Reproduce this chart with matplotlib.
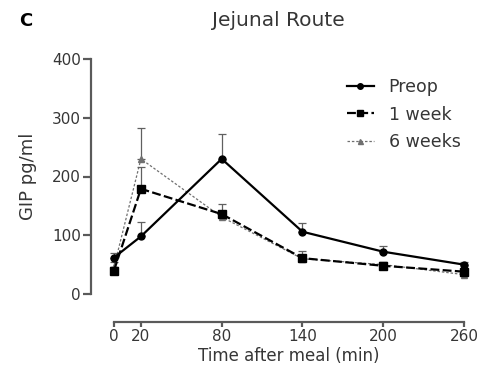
import matplotlib
matplotlib.use("Agg")
import matplotlib.pyplot as plt
from matplotlib.lines import Line2D

plt.rcParams['font.family'] = ['DejaVu Sans']

time = [0, 20, 80, 140, 200, 260]
preop = [62, 98, 230, 106, 72, 50]
preop_err = [8, 24, 42, 15, 10, 4]
week1 = [40, 179, 136, 61, 48, 38]
week1_err = [6, 37, 17, 12, 6, 5]
week6 = [46, 230, 131, 60, 50, 33]
week6_err = [8, 53, 10, 6, 5, 4]
xticks = [0, 20, 80, 140, 200, 260]
yticks = [0, 100, 200, 300, 400]

DPI = 100
PX = 72 / DPI  # points per pixel

fig = plt.figure(figsize=(4.79, 3.82), dpi=DPI)
ax = fig.add_axes([114 / 479, 1 - 294 / 382, 350 / 479, 235 / 382])

axis_col = '#5a5a5a'
text_col = '#363636'

styles = [
    dict(color='black', lw=1.6, ls='-', marker='o', ms=5),
    dict(color='black', lw=1.6, ls=(0, (4, 1.5)), marker='s', ms=5.5),
    dict(color='#707070', lw=0.9, ls=(0, (2, 1.5)), marker='^', ms=4.5),
]
series = [(preop, preop_err, 'Preop'),
          (week1, week1_err, '1 week'),
          (week6, week6_err, '6 weeks')]

handles = []
for (vals, err, name), st, z in zip(series, styles, [4, 3, 2]):
    ax.errorbar(time, vals, yerr=[[0] * len(err), err], capsize=3,
                elinewidth=0.9, capthick=0.9, ecolor='#606060',
                clip_on=False, zorder=z, **st)
    handles.append(Line2D([], [], **dict(st, ms=st['ms'] * 0.8), label=name))

ax.set_xlim(0, 260)
ax.set_ylim(0, 400)
ax.set_xticks(xticks)
ax.set_yticks(yticks)

for s in ['top', 'right']:
    ax.spines[s].set_visible(False)
ax.spines['left'].set_position(('outward', 23 * PX))
ax.spines['bottom'].set_position(('outward', 28 * PX))
ax.spines['left'].set_bounds(0, 400)
ax.spines['bottom'].set_bounds(0, 260)
for s in ['left', 'bottom']:
    ax.spines[s].set_color(axis_col)
    ax.spines[s].set_linewidth(2.2 * PX)
ax.tick_params(colors=axis_col, width=2.2 * PX, labelsize=11,
               labelcolor=text_col)
ax.tick_params(axis='y', length=8 * PX, pad=2 * PX)
ax.tick_params(axis='x', length=5 * PX, pad=2 * PX)

ax.set_xlabel('Time after meal (min)', fontsize=12, color=text_col, labelpad=2)
ax.set_ylabel('GIP pg/ml', fontsize=13, color=text_col, labelpad=11)

fig.text(278 / 479, 1 - 21 / 382, 'Jejunal Route', ha='center', va='center',
         fontsize=14.5, color=text_col)
fig.text(26 / 479, 1 - 21 / 382, 'C', ha='center', va='center',
         fontsize=13, fontweight='bold', color='black')

ax.legend(handles=handles, loc='upper left',
          bbox_to_anchor=(347 / 479, 1 - 78 / 382),
          bbox_transform=fig.transFigure, frameon=False, borderpad=0,
          borderaxespad=0, fontsize=12.5, handlelength=1.55,
          labelspacing=0.55, handletextpad=0.85, labelcolor=text_col)

fig.savefig('out.png', dpi=DPI)
